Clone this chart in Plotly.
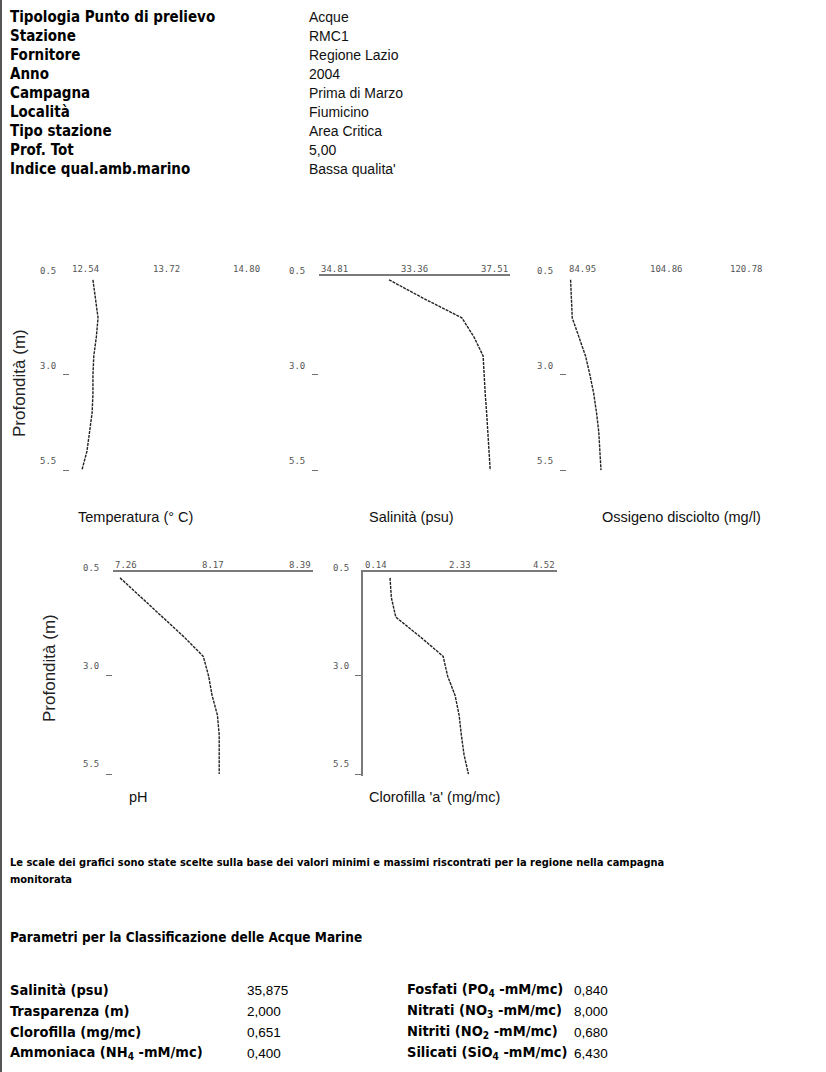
import plotly.graph_objects as go

# ---- Dati della stazione -------------------------------------------------
info_labels = ["Tipologia Punto di prelievo", "Stazione", "Fornitore", "Anno", "Campagna",
               "Località", "Tipo stazione", "Prof. Tot", "Indice qual.amb.marino"]
info_values = ["Acque", "RMC1", "Regione Lazio", "2004", "Prima di Marzo",
               "Fiumicino", "Area Critica", "5,00", "Bassa qualita'"]

# ---- Profili verticali (profondità in m) --------------------------------
profondita = [0.5, 1.0, 1.5, 2.0, 2.5, 3.0, 3.5, 4.0, 4.5, 5.0, 5.5]
temperatura = [12.81, 12.84, 12.87, 12.85, 12.82, 12.81, 12.81, 12.80, 12.77, 12.74, 12.68]
salinita = [35.80, 36.30, 36.83, 37.00, 37.13, 37.14, 37.16, 37.18, 37.20, 37.22, 37.23]
ossigeno = [85.6, 85.7, 85.9, 87.1, 88.3, 89.1, 89.8, 90.3, 90.7, 90.9, 91.1]
ph = [7.30, 7.42, 7.54, 7.66, 7.77, 7.80, 7.82, 7.85, 7.86, 7.86, 7.86]
clorofilla = [0.75, 0.78, 0.88, 1.43, 1.95, 2.05, 2.22, 2.31, 2.36, 2.42, 2.52]

# scale (min, max) e testi delle tacche
temp_scale, temp_ticks = (12.54, 14.80), ["12.54", "13.72", "14.80"]
sal_scale, sal_ticks = (34.81, 37.51), ["34.81", "33.36", "37.51"]
oss_scale, oss_ticks = (84.95, 120.78), ["84.95", "104.86", "120.78"]
ph_scale, ph_ticks = (7.26, 8.39), ["7.26", "8.17", "8.39"]
clo_scale, clo_ticks = (0.14, 4.52), ["0.14", "2.33", "4.52"]
depth_ticks = [0.5, 3.0, 5.5]
depth_tick_text = ["0.5", "3.0", "5.5"]

# ---- Parametri per la classificazione ----------------------------------
param_left = ["Salinità (psu)", "Trasparenza (m)", "Clorofilla (mg/mc)", "Ammoniaca (NH<sub>4</sub> -mM/mc)"]
param_left_val = ["35,875", "2,000", "0,651", "0,400"]
param_right = ["Fosfati (PO<sub>4</sub> -mM/mc)", "Nitrati (NO<sub>3</sub> -mM/mc)",
               "Nitriti (NO<sub>2</sub> -mM/mc)", "Silicati (SiO<sub>4</sub> -mM/mc)"]
param_right_val = ["0,840", "8,000", "0,680", "6,430"]

W, H = 826, 1072
BOLD = "DejaVu Sans Condensed, DejaVu Sans, sans-serif"
NARROW = "Liberation Sans Narrow, Liberation Sans, sans-serif"
TICKF = "DejaVu Sans Mono, monospace"


def fx(px):
    return px / W


def fy(py):
    return 1 - py / H


fig = go.Figure()
annotations = []
shapes = []

rows = {
    1: dict(top=276, bottom=472, yrange=[5.55, 0.40], title_y=517, ylab_shift=9),
    2: dict(top=572, bottom=776, yrange=[5.55, 0.35], title_y=797, ylab_shift=10),
}
# pannelli: valori, scala, tacche, (x sinistra, x destra), riga, linea sopra, linea a sinistra, titolo, centro titolo
panels = [
    (temperatura, temp_scale, temp_ticks, (70, 262), 1, False, False, "Temperatura (° C)", 135),
    (salinita, sal_scale, sal_ticks, (319, 510), 1, True, False, "Salinità (psu)", 411),
    (ossigeno, oss_scale, oss_ticks, (567, 765), 1, False, False, "Ossigeno disciolto (mg/l)", 681),
    (ph, ph_scale, ph_ticks, (113, 313), 2, True, False, "pH", 138),
    (clorofilla, clo_scale, clo_ticks, (363, 557), 2, True, True, "Clorofilla 'a' (mg/mc)", 435),
]

layout_axes = {}
for i, (vals, scale, ticks, (xl, xr), row, top_line, left_line, title, title_x) in enumerate(panels, start=1):
    sfx = "" if i == 1 else str(i)
    r = rows[row]
    fig.add_trace(go.Scatter(
        x=vals, y=profondita, mode="lines",
        line=dict(color="#222222", width=1.4, dash="3px,1px"),
        xaxis="x" + sfx, yaxis="y" + sfx, showlegend=False, hoverinfo="skip",
    ))
    layout_axes["xaxis" + sfx] = dict(
        domain=[fx(xl), fx(xr)], range=list(scale), anchor="y" + sfx, side="top",
        showline=top_line, linecolor="#7a7a7a", linewidth=1.5,
        showgrid=False, zeroline=False, showticklabels=False, ticks="",
    )
    layout_axes["yaxis" + sfx] = dict(
        domain=[fy(r["bottom"]), fy(r["top"])], range=r["yrange"], anchor="x" + sfx,
        showline=left_line, linecolor="#7a7a7a", linewidth=1.5,
        showgrid=False, zeroline=False, showticklabels=False,
        tickvals=depth_ticks[1:], ticks="outside", ticklen=6, tickcolor="#707070", tickwidth=1,
    )
    # testi delle tacche sull'asse orizzontale
    mid = (scale[0] + scale[1]) / 2
    for xv, txt, anc in zip([scale[0], mid, scale[1]], ticks, ["left", "center", "right"]):
        annotations.append(dict(
            x=xv, y=1, xref="x" + sfx, yref=f"y{sfx} domain", text=txt, showarrow=False,
            xanchor=anc, yanchor="bottom",
            font=dict(family=TICKF, size=9, color="#555555"),
        ))
    # testi delle tacche sull'asse verticale
    for dv, txt in zip(depth_ticks, depth_tick_text):
        annotations.append(dict(
            x=0, y=dv, xref=f"x{sfx} domain", yref="y" + sfx, text=txt, showarrow=False,
            xanchor="right", yanchor="middle", xshift=-12, yshift=r["ylab_shift"],
            font=dict(family=TICKF, size=9, color="#555555"),
        ))
    annotations.append(dict(
        x=fx(title_x), y=fy(r["title_y"]), xref="paper", yref="paper", text=title,
        showarrow=False, xanchor="center", yanchor="middle",
        font=dict(family=NARROW, size=14.5, color="#111"),
    ))

# titoli dell'asse delle profondità
for px_x, px_y in [(19, 383), (49, 668)]:
    annotations.append(dict(
        x=fx(px_x), y=fy(px_y), xref="paper", yref="paper", text="Profondità (m)",
        showarrow=False, textangle=-90, xanchor="center", yanchor="middle",
        font=dict(family=NARROW, size=17, color="#222"),
    ))

# intestazione
for k, (lab, val) in enumerate(zip(info_labels, info_values)):
    ypx = 17 + 19 * k
    annotations.append(dict(
        x=fx(8), y=fy(ypx), xref="paper", yref="paper", text="<b>" + lab + "</b>",
        showarrow=False, xanchor="left", yanchor="middle",
        font=dict(family=BOLD, size=15, color="#000"),
    ))
    annotations.append(dict(
        x=fx(307), y=fy(ypx), xref="paper", yref="paper", text=val,
        showarrow=False, xanchor="left", yanchor="middle",
        font=dict(family=NARROW, size=14, color="#111"),
    ))

# nota sulle scale
for txt, ypx in [("Le scale dei grafici sono state scelte sulla base dei valori minimi e massimi "
                  "riscontrati per la regione nella campagna", 862), ("monitorata", 879)]:
    annotations.append(dict(
        x=fx(8), y=fy(ypx), xref="paper", yref="paper", text="<b>" + txt + "</b>",
        showarrow=False, xanchor="left", yanchor="middle",
        font=dict(family=BOLD, size=11, color="#000"),
    ))

annotations.append(dict(
    x=fx(8), y=fy(937), xref="paper", yref="paper",
    text="<b>Parametri per la Classificazione delle Acque Marine</b>",
    showarrow=False, xanchor="left", yanchor="middle",
    font=dict(family=BOLD, size=13.5, color="#000"),
))

for k in range(4):
    ypx = 990 + 21 * k
    for xpx, txt, bold in [(8, param_left[k], True), (245, param_left_val[k], False),
                           (405, param_right[k], True), (572, param_right_val[k], False)]:
        annotations.append(dict(
            x=fx(xpx), y=fy(ypx), xref="paper", yref="paper",
            text=("<b>" + txt + "</b>") if bold else txt,
            showarrow=False, xanchor="left", yanchor="middle",
            font=dict(family=BOLD if bold else NARROW, size=14.5 if bold else 13.5, color="#000"),
        ))

# bordo sinistro della pagina
shapes.append(dict(type="line", xref="paper", yref="paper", x0=fx(1), x1=fx(1), y0=0, y1=1,
                   line=dict(color="#555", width=2)))

fig.update_layout(
    width=W, height=H, margin=dict(l=0, r=0, t=0, b=0),
    paper_bgcolor="white", plot_bgcolor="white",
    annotations=annotations, shapes=shapes, showlegend=False,
    **layout_axes,
)

fig.write_html("out.html")
